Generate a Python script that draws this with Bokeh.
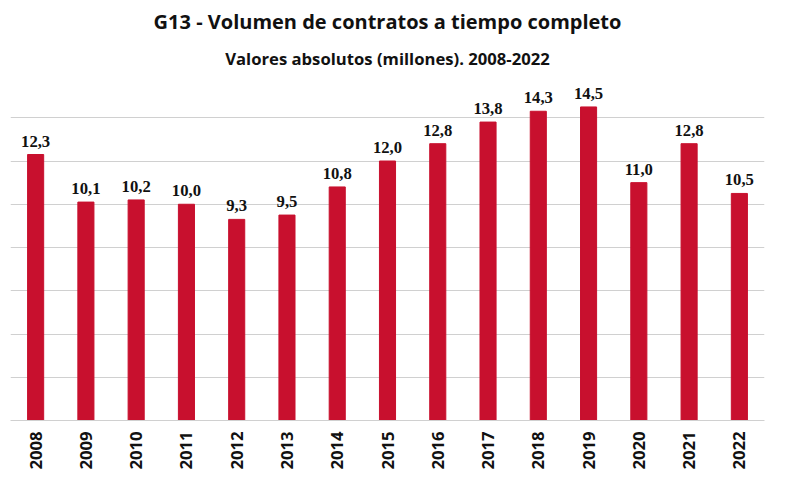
from bokeh.plotting import figure
from bokeh.models import ColumnDataSource, Title, FixedTicker, LabelSet
from bokeh.embed import file_html
from bokeh.resources import INLINE
import math

years = [str(y) for y in range(2008, 2023)]
values = [12.3, 10.1, 10.2, 10.0, 9.3, 9.5, 10.8, 12.0, 12.8, 13.8, 14.3, 14.5, 11.0, 12.8, 10.5]
labels = [f"{v:.1f}".replace(".", ",") for v in values]

src = ColumnDataSource(dict(x=years, top=values, lab=labels))

p = figure(x_range=years, y_range=(0, 16), width=774, height=472,
           output_backend="svg", toolbar_location=None,
           min_border_left=10, min_border_right=10, min_border_top=10, min_border_bottom=0)
p.add_layout(Title(text="Valores absolutos (millones). 2008-2022", align="center",
                   text_font="Open Sans", text_font_size="12.5pt", text_font_style="bold",
                   text_color="#111111"), "above")
p.add_layout(Title(text="G13 - Volumen de contratos a tiempo completo", align="center",
                   text_font="Open Sans", text_font_size="15pt", text_font_style="bold",
                   text_color="#111111"), "above")
p.vbar(x="x", top="top", width=0.32, source=src, color="#C8102E")
p.add_layout(LabelSet(x="x", y="top", text="lab", source=src, text_align="center",
                      y_offset=8, text_font="Open Sans", text_font_size="12.5pt",
                      text_font_style="bold", text_color="#111111"))
p.outline_line_color = None
p.yaxis.visible = False
p.ygrid.ticker = FixedTicker(ticks=[0, 2, 4, 6, 8, 10, 12, 14, 16])
p.ygrid.grid_line_color = "#d0d0d0"
p.xgrid.grid_line_color = None
p.xaxis.major_label_orientation = math.pi / 2
p.xaxis.major_label_text_font = "Open Sans"
p.xaxis.major_label_text_font_size = "12.5pt"
p.xaxis.major_label_text_font_style = "bold"
p.xaxis.major_label_text_color = "#111111"
p.xaxis.axis_line_color = "#d0d0d0"
p.xaxis.major_tick_line_color = None
p.xaxis.minor_tick_line_color = None

open("out.html", "w").write(file_html(p, INLINE))
